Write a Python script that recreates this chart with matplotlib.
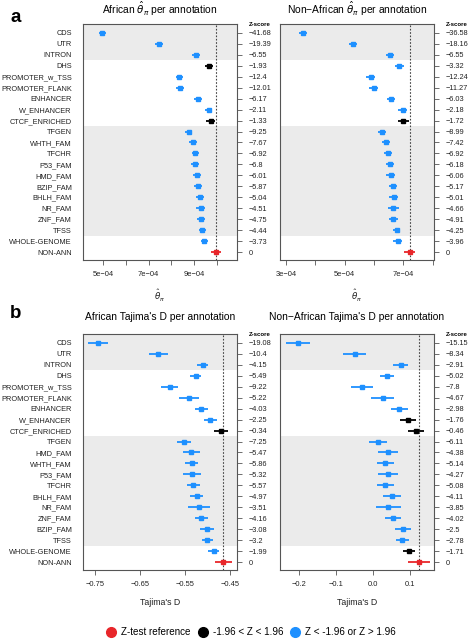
import matplotlib
matplotlib.use('Agg')
import matplotlib.pyplot as plt
from matplotlib.lines import Line2D

plt.rcParams['font.family'] = ['Liberation Sans', 'DejaVu Sans']

# annotation order per panel
labels_a = ['CDS', 'UTR', 'INTRON', 'DHS', 'PROMOTER_w_TSS', 'PROMOTER_FLANK',
            'ENHANCER', 'W_ENHANCER', 'CTCF_ENRICHED', 'TFGEN', 'WHTH_FAM',
            'TFCHR', 'P53_FAM', 'HMD_FAM', 'BZIP_FAM', 'BHLH_FAM', 'NR_FAM',
            'ZNF_FAM', 'TFSS', 'WHOLE-GENOME', 'NON-ANN']
labels_b = ['CDS', 'UTR', 'INTRON', 'DHS', 'PROMOTER_w_TSS', 'PROMOTER_FLANK',
            'ENHANCER', 'W_ENHANCER', 'CTCF_ENRICHED', 'TFGEN', 'HMD_FAM',
            'WHTH_FAM', 'P53_FAM', 'TFCHR', 'BHLH_FAM', 'NR_FAM', 'ZNF_FAM',
            'BZIP_FAM', 'TFSS', 'WHOLE-GENOME', 'NON-ANN']

# theta_pi, African
theta_afr = [4.97e-4, 7.46e-4, 9.09e-4, 9.66e-4, 8.35e-4, 8.39e-4, 9.17e-4,
             9.65e-4, 9.74e-4, 8.76e-4, 8.95e-4, 9.06e-4, 9.05e-4, 9.14e-4,
             9.19e-4, 9.27e-4, 9.30e-4, 9.31e-4, 9.37e-4, 9.46e-4, 9.97e-4]
theta_afr_err = [0.14e-4, 0.16e-4, 0.16e-4, 0.18e-4, 0.16e-4, 0.17e-4, 0.16e-4,
                 0.16e-4, 0.20e-4, 0.16e-4, 0.16e-4, 0.16e-4, 0.17e-4, 0.18e-4,
                 0.17e-4, 0.18e-4, 0.20e-4, 0.18e-4, 0.16e-4, 0.17e-4, 0.22e-4]
theta_afr_z = [-41.68, -19.39, -6.55, -1.93, -12.4, -12.01, -6.17, -2.11, -1.33,
               -9.25, -7.67, -6.92, -6.8, -6.01, -5.87, -5.04, -4.51, -4.75,
               -4.44, -3.73, 0]

# theta_pi, non-African
theta_nafr = [3.59e-4, 5.29e-4, 6.53e-4, 6.86e-4, 5.88e-4, 5.99e-4, 6.58e-4,
              6.97e-4, 7.00e-4, 6.27e-4, 6.41e-4, 6.47e-4, 6.55e-4, 6.56e-4,
              6.65e-4, 6.67e-4, 6.66e-4, 6.66e-4, 6.77e-4, 6.80e-4, 7.21e-4]
theta_nafr_err = [0.13e-4, 0.14e-4, 0.14e-4, 0.15e-4, 0.14e-4, 0.15e-4, 0.14e-4,
                  0.14e-4, 0.18e-4, 0.14e-4, 0.14e-4, 0.14e-4, 0.14e-4, 0.15e-4,
                  0.14e-4, 0.15e-4, 0.18e-4, 0.15e-4, 0.13e-4, 0.14e-4, 0.20e-4]
theta_nafr_z = [-36.58, -18.16, -6.55, -3.32, -12.24, -11.27, -6.03, -2.18, -1.72,
                -8.99, -7.42, -6.92, -6.18, -6.06, -5.17, -5.01, -4.66, -4.91,
                -4.25, -3.96, 0]

# Tajima's D, African
tajd_afr = [-0.743, -0.609, -0.510, -0.526, -0.584, -0.540, -0.513, -0.493,
            -0.469, -0.552, -0.536, -0.535, -0.534, -0.531, -0.524, -0.518,
            -0.513, -0.501, -0.500, -0.486, -0.465]
tajd_afr_err = [0.023, 0.021, 0.012, 0.013, 0.019, 0.022, 0.015, 0.015, 0.016,
                0.016, 0.019, 0.015, 0.019, 0.015, 0.015, 0.024, 0.015, 0.015,
                0.012, 0.012, 0.019]
tajd_afr_z = [-19.08, -10.4, -4.15, -5.49, -9.22, -5.22, -4.03, -2.25, -0.34,
              -7.25, -5.47, -5.86, -5.32, -5.57, -4.97, -3.51, -4.16, -3.08,
              -3.2, -1.99, 0]

# Tajima's D, non-African
tajd_nafr = [-0.2035, -0.050, 0.074, 0.037, -0.031, 0.025, 0.070, 0.094, 0.116,
             0.012, 0.040, 0.032, 0.0405, 0.032, 0.050, 0.040, 0.053, 0.080,
             0.078, 0.096, 0.124]
tajd_nafr_err = [0.033, 0.031, 0.020, 0.020, 0.029, 0.032, 0.023, 0.022, 0.021,
                 0.024, 0.026, 0.023, 0.027, 0.023, 0.024, 0.034, 0.021, 0.021,
                 0.018, 0.017, 0.030]
tajd_nafr_z = [-15.15, -8.34, -2.91, -5.02, -7.8, -4.67, -2.98, -1.76, -0.46,
               -6.11, -4.38, -5.14, -4.27, -5.08, -4.11, -3.85, -4.02, -2.5,
               -2.78, -1.71, 0]

BLUE = '#1e90ff'
RED = '#e8262a'
GREY = '#ebebeb'
EDGE = '#555555'
THETA = r'$\hat{\theta}_{\pi}$'


def point_colour(label, z):
    if label == 'NON-ANN':
        return RED
    if abs(z) < 1.96:
        return 'black'
    return BLUE


def panel(ax, labels, vals, errs, zs, title, title_y, xlim, xticks, xticklabels,
          xlabel, show_names=True):
    n = len(labels)
    ys = list(range(1, n + 1))
    ylim = (n + 0.73, 0.18)
    ax.set_ylim(ylim)
    ax.set_xlim(xlim)
    ax.axhspan(ylim[1], 3.5, color=GREY, lw=0, zorder=0)
    ax.axhspan(9.5, n - 1.5, color=GREY, lw=0, zorder=0)
    ax.axvline(vals[-1], color='#444444', lw=0.8, ls=(0, (1.5, 1.5)), zorder=1)
    for lab, v, e, z, y in zip(labels, vals, errs, zs, ys):
        c = point_colour(lab, z)
        ax.errorbar(v, y, xerr=e, fmt='s', ms=2.2, color=c, ecolor=c,
                    elinewidth=1.3, capsize=0, zorder=3)
    ax.set_yticks(ys)
    if show_names:
        ax.set_yticklabels(labels)
    else:
        ax.set_yticklabels([])
    ax.tick_params(axis='y', length=0, pad=8, labelsize=5.3, colors='#222222')
    ax.set_xticks(xticks)
    ax.set_xticklabels(xticklabels)
    ax.tick_params(axis='x', length=3.6, width=0.6, pad=4.5, labelsize=5.4,
                   color=EDGE, labelcolor='#222222')
    for s in ax.spines.values():
        s.set_color(EDGE)
        s.set_linewidth(0.8)
    ax.set_xlabel(xlabel, fontsize=6.3, labelpad=7, color='#222222')
    ax.text(0.5, title_y, title, transform=ax.transAxes, ha='center',
            va='baseline', fontsize=7.4)

    twin = ax.twinx()
    twin.set_ylim(ylim)
    twin.set_yticks(ys)
    twin.set_yticklabels([str(z).replace('-', '\u2212') for z in zs])
    twin.tick_params(axis='y', length=3.6, width=0.6, pad=5, labelsize=5.3,
                     color=EDGE, labelcolor='#222222')
    for s in twin.spines.values():
        s.set_visible(False)
    ax.text(1.078, 1.0, 'Z-score', transform=ax.transAxes, ha='left',
            va='center', fontsize=4.3, fontweight='bold')


fig = plt.figure(figsize=(4.72, 6.39), dpi=100)

w = 154 / 472
h = 236 / 639
ax1 = fig.add_axes([83 / 472, 1 - 260 / 639, w, h])
ax2 = fig.add_axes([280 / 472, 1 - 260 / 639, w, h])
ax3 = fig.add_axes([83 / 472, 1 - 570 / 639, w, h])
ax4 = fig.add_axes([280 / 472, 1 - 570 / 639, w, h])

panel(ax1, labels_a, theta_afr, theta_afr_err, theta_afr_z,
      'African ' + THETA + ' per annotation', 1.041,
      (4.12e-4, 10.89e-4), [5e-4, 6e-4, 7e-4, 8e-4, 9e-4, 10e-4],
      ['5e\u221204', '', '7e\u221204', '', '9e\u221204', ''], THETA)
panel(ax2, labels_a, theta_nafr, theta_nafr_err, theta_nafr_z,
      'Non\u2212African ' + THETA + ' per annotation', 1.041,
      (2.80e-4, 8.04e-4), [3e-4, 4e-4, 5e-4, 6e-4, 7e-4, 8e-4],
      ['3e\u221204', '', '5e\u221204', '', '7e\u221204', ''], THETA,
      show_names=False)
panel(ax3, labels_b, tajd_afr, tajd_afr_err, tajd_afr_z,
      "African Tajima's D per annotation", 1.059,
      (-0.7765, -0.434), [-0.75, -0.65, -0.55, -0.45],
      ['\u22120.75', '\u22120.65', '\u22120.55', '\u22120.45'], "Tajima's D")
panel(ax4, labels_b, tajd_nafr, tajd_nafr_err, tajd_nafr_z,
      "Non\u2212African Tajima's D per annotation", 1.059,
      (-0.252, 0.164), [-0.2, -0.1, 0.0, 0.1],
      ['\u22120.2', '\u22120.1', '0.0', '0.1'], "Tajima's D",
      show_names=False)

fig.text(16 / 472, 1 - 18 / 639, 'a', fontsize=13.5, fontweight='bold',
         ha='center', va='center')
fig.text(16 / 472, 1 - 313 / 639, 'b', fontsize=13.5, fontweight='bold',
         ha='center', va='center')

handles = [Line2D([], [], ls='none', marker='o', ms=7, color=RED),
           Line2D([], [], ls='none', marker='o', ms=7, color='black'),
           Line2D([], [], ls='none', marker='o', ms=7, color=BLUE)]
fig.legend(handles, ['Z-test reference', '-1.96 < Z < 1.96', 'Z < -1.96 or Z > 1.96'],
           loc='center', bbox_to_anchor=(251 / 472, 1 - 632 / 639), ncol=3,
           frameon=False, fontsize=7.1, handlelength=1.0, handletextpad=0.5,
           columnspacing=0.75, borderpad=0, borderaxespad=0)

fig.savefig('out.png', dpi=100)
